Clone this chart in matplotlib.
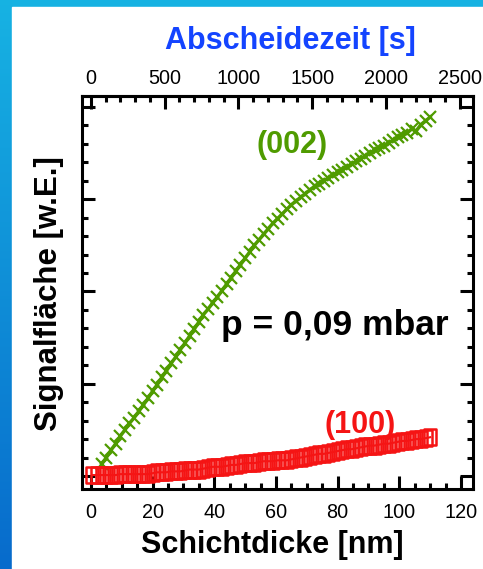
import numpy as np
import matplotlib
matplotlib.use("Agg")
import matplotlib.pyplot as plt
from matplotlib.path import Path
from matplotlib.patches import Rectangle
from matplotlib.ticker import MultipleLocator

plt.rcParams['font.family'] = ['Liberation Sans', 'DejaVu Sans']

# Layer thickness of each measurement [nm]
thickness_nm = [
    0.5, 2.0, 3.5, 5.0, 6.5, 8.0, 9.5, 11.0, 12.5, 14.0,
    15.5, 17.0, 18.5, 20.0, 21.5, 23.0, 24.5, 26.0, 27.5, 29.0,
    30.5, 32.0, 33.5, 35.0, 36.5, 38.0, 39.5, 41.0, 42.5, 44.0,
    45.5, 47.0, 48.5, 50.0, 51.5, 53.0, 54.5, 56.0, 57.5, 59.0,
    60.5, 62.0, 63.5, 65.0, 66.5, 68.0, 69.5, 71.0, 72.5, 74.0,
    75.5, 77.0, 78.5, 80.0, 81.5, 83.0, 84.5, 86.0, 87.5, 89.0,
    90.5, 92.0, 93.5, 95.0, 96.5, 98.0, 99.5, 101.0, 102.5, 104.0,
    105.5, 107.0, 108.5, 110.0,
]

# Integrated peak area of the (100) reflection [arb. units]
signal_100 = [
    0.01, 0.01, 0.01, 0.01, 0.01, 0.01, 0.02, 0.02, 0.02, 0.02,
    0.02, 0.02, 0.02, 0.03, 0.04, 0.04, 0.04, 0.05, 0.05, 0.05,
    0.06, 0.07, 0.07, 0.07, 0.08, 0.09, 0.10, 0.10, 0.10, 0.11,
    0.12, 0.12, 0.13, 0.14, 0.14, 0.14, 0.15, 0.16, 0.16, 0.16,
    0.17, 0.17, 0.17, 0.18, 0.19, 0.20, 0.21, 0.22, 0.23, 0.24,
    0.24, 0.25, 0.26, 0.27, 0.28, 0.29, 0.29, 0.30, 0.31, 0.32,
    0.33, 0.33, 0.34, 0.35, 0.35, 0.36, 0.37, 0.38, 0.38, 0.39,
    0.40, 0.40, 0.41, 0.42,
]

# Integrated peak area of the (002) reflection [arb. units], from 3.5 nm on
signal_002 = [
    0.13, 0.20, 0.28, 0.35, 0.43, 0.50, 0.57, 0.63, 0.70, 0.77,
    0.84, 0.92, 0.99, 1.07, 1.14, 1.22, 1.29, 1.37, 1.44, 1.52,
    1.59, 1.67, 1.75, 1.81, 1.88, 1.94, 2.01, 2.08, 2.15, 2.22,
    2.29, 2.36, 2.43, 2.50, 2.56, 2.62, 2.68, 2.74, 2.79, 2.84,
    2.89, 2.94, 2.98, 3.02, 3.06, 3.10, 3.14, 3.17, 3.20, 3.23,
    3.26, 3.29, 3.32, 3.35, 3.38, 3.41, 3.44, 3.47, 3.50, 3.53,
    3.56, 3.58, 3.61, 3.64, 3.67, 3.70, 3.72, 3.76, 3.74, 3.81,
    3.85, 3.89,
]
thickness_002 = thickness_nm[len(thickness_nm) - len(signal_002):]

# Deposition time per nm of layer [s/nm]
seconds_per_nm = 20.9

GREEN = '#4f9b00'
RED = '#f51414'
BLUE = '#1444ff'

W, H = 483, 569
fig = plt.figure(figsize=(W / 100, H / 100), dpi=100)


def fx(x):
    return x / W


def fy(y):
    return 1 - y / H


# Slide background: blue gradient frame with a white panel
bg = fig.add_axes([0, 0, 1, 1], zorder=-10)
t = np.linspace(0, 1, 256)[:, None, None]
c_top = np.array([0.09, 0.70, 0.89])
c_bot = np.array([0.03, 0.42, 0.80])
bg.imshow(c_top + (c_bot - c_top) * t, aspect='auto', extent=[0, 1, 0, 1], origin='upper')
bg.add_patch(Rectangle((12 / W, 0), 1 - 12 / W, 1 - 7 / H, color='white', transform=bg.transAxes))
bg.set_xlim(0, 1)
bg.set_ylim(0, 1)
bg.axis('off')

ax = fig.add_axes([fx(82), fy(489), (473 - 82) / W, (489 - 96) / H])
ax.set_xlim(-2.9, 123.9)
ax.set_ylim(-0.141, 4.119)

ax.plot(thickness_002, signal_002, color=GREEN, lw=2.4, marker='x', ms=9.0,
        mew=1.6, zorder=3)

rect = Path([(-0.4, -0.5), (0.4, -0.5), (0.4, 0.5), (-0.4, 0.5), (-0.4, -0.5)], closed=True)
ax.plot(thickness_nm, signal_100, color=RED, lw=1.5, marker=rect, ms=11.5,
        mfc='none', mec=RED, mew=1.8, zorder=4)

for s in ax.spines.values():
    s.set_linewidth(2.2)

ax.xaxis.set_major_locator(MultipleLocator(20))
ax.xaxis.set_minor_locator(MultipleLocator(5))
ax.yaxis.set_major_locator(MultipleLocator(1))
ax.yaxis.set_minor_locator(MultipleLocator(0.2))
ax.tick_params(which='both', direction='in', top=False, right=True, left=True,
               bottom=True, labelleft=False, width=2.2, labelsize=14.3, pad=10)
ax.tick_params(which='major', length=9.5)
ax.tick_params(which='minor', length=4.3)

sec = ax.secondary_xaxis('top', functions=(lambda n: n * seconds_per_nm,
                                            lambda s: s / seconds_per_nm))
sec.xaxis.set_major_locator(MultipleLocator(500))
sec.xaxis.set_minor_locator(MultipleLocator(100))
sec.tick_params(which='both', direction='in', width=2.2, labelsize=14.3, pad=6)
sec.tick_params(which='major', length=9.5)
sec.tick_params(which='minor', length=4.3)
sec.spines['top'].set_linewidth(2.2)

fig.text(fx(290), fy(41), 'Abscheidezeit [s]', color=BLUE, fontsize=22,
         fontweight='bold', ha='center', va='center')
fig.text(fx(272), fy(545), 'Schichtdicke [nm]', color='black', fontsize=22,
         fontweight='bold', ha='center', va='center')
fig.text(fx(49), fy(294), 'Signalfläche [w.E.]', color='black', fontsize=22.5,
         fontweight='bold', ha='center', va='center', rotation=90)

fig.text(fx(292), fy(153), '(002)', color=GREEN, fontsize=22, fontweight='bold',
         ha='center', va='baseline')
fig.text(fx(360), fy(433), '(100)', color=RED, fontsize=22, fontweight='bold',
         ha='center', va='baseline')
fig.text(fx(335), fy(335), 'p = 0,09 mbar', color='black', fontsize=25.5,
         fontweight='bold', ha='center', va='baseline')

fig.savefig('out.png', dpi=100)
